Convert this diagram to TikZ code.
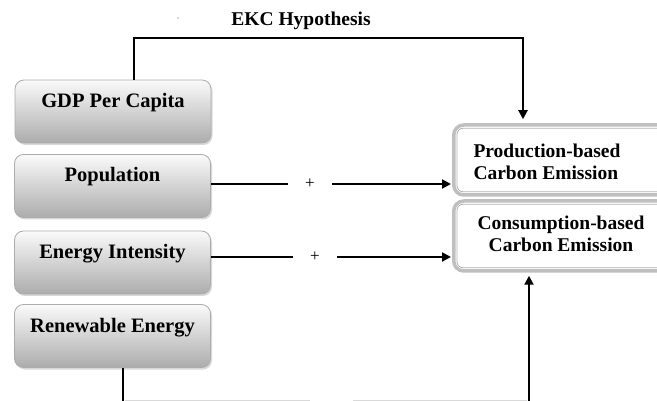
\documentclass[tikz,border=0pt]{standalone}
\usepackage{fontspec}
\setmainfont{Liberation Serif}
\usetikzlibrary{arrows.meta,shadows}
\newcommand{\uptext}[1]{\raisebox{4pt}[0pt][0pt]{#1}}
\begin{document}
\begin{tikzpicture}[x=1pt,y=-1pt,
  leftbox/.style={draw=gray!65, line width=0.8pt, rounded corners=9pt,
    top color=gray!4, bottom color=gray!65, minimum width=196pt,
    minimum height=63pt, inner sep=0pt,
    font=\fontsize{20.5}{23}\selectfont\bfseries,
    drop shadow={shadow xshift=1.5pt,shadow yshift=-2pt,opacity=0.3}},
  rightbox/.style={draw=gray!50, line width=3.5pt, rounded corners=10pt,
    fill=white, minimum width=240pt, minimum height=70pt, anchor=west, inner sep=0pt},
  innerline/.style={draw=gray!60, line width=0.8pt, rounded corners=6pt},
  boxtext/.style={font=\fontsize{19.5}{21.5}\selectfont\bfseries, inner sep=0pt},
  conn/.style={line width=2pt, black},
  arr/.style={conn, -{Triangle[length=9pt,width=9pt]}},
  plus/.style={font=\fontsize{17}{18}\selectfont, minimum width=44pt, inner sep=0pt},
  faint/.style={draw=gray!30, line width=0.8pt}
]
\useasboundingbox (0,0) rectangle (657,401);
\clip (0,0) rectangle (657,401);
\fill[white] (0,0) rectangle (657,401);

% left boxes
\node[leftbox] (gdp) at (113,111.5) {\uptext{GDP Per Capita}};
\node[leftbox] (pop) at (112.5,186) {\uptext{Population}};
\node[leftbox] (ei)  at (112.5,262.5) {\uptext{Energy Intensity}};
\node[leftbox] (ren) at (112.5,336) {\uptext{Renewable Energy}};

% right boxes
\node[rightbox] (prod) at (452,160) {};
\node[rightbox] (cons) at (452,236) {};
\draw[innerline] ([xshift=5pt,yshift=-5pt]prod.north west) rectangle ([xshift=-5pt,yshift=5pt]prod.south east);
\draw[innerline] ([xshift=5pt,yshift=-5pt]cons.north west) rectangle ([xshift=-5pt,yshift=5pt]cons.south east);
\node[boxtext, align=left] (prodtxt) at (547,162) {Production-based\\Carbon Emission};
\node[boxtext, align=center] (constxt) at (561,234) {Consumption-based\\Carbon Emission};

% EKC hypothesis path
\node[boxtext] (ekc) at (301,21) {EKC Hypothesis};
\fill[gray!60] (178,18) circle (0.8pt);
\coordinate (ekcA) at (134,38);
\coordinate (ekcB) at (523,38);
\draw[arr, shorten >=4pt] (gdp.north -| ekcA) -- (ekcA) -- (ekcB) -- (prod.north -| ekcB);

% population and energy intensity
\node[plus] (plus1) at (310,184) {\raisebox{-3pt}{+}};
\node[plus] (plus2) at (315,257) {\raisebox{-3pt}{+}};
\draw[conn] (pop.east |- plus1) -- (plus1.west);
\draw[arr, shorten >=1pt] (plus1.east) -- (prod.west |- plus1);
\draw[conn] (ei.east |- plus2) -- (plus2.west);
\draw[arr, shorten >=1pt] (plus2.east) -- (cons.west |- plus2);

% renewable energy path
\coordinate (bl) at (123,401);
\coordinate (br) at (529,401);
\draw[conn] (ren.south -| bl) -- (bl);
\draw[arr, shorten >=3pt] (br) -- (cons.south -| br);
\draw[faint] (125,400) -- (310,400);
\draw[faint] (353,400) -- (527,400);
\end{tikzpicture}
\end{document}
